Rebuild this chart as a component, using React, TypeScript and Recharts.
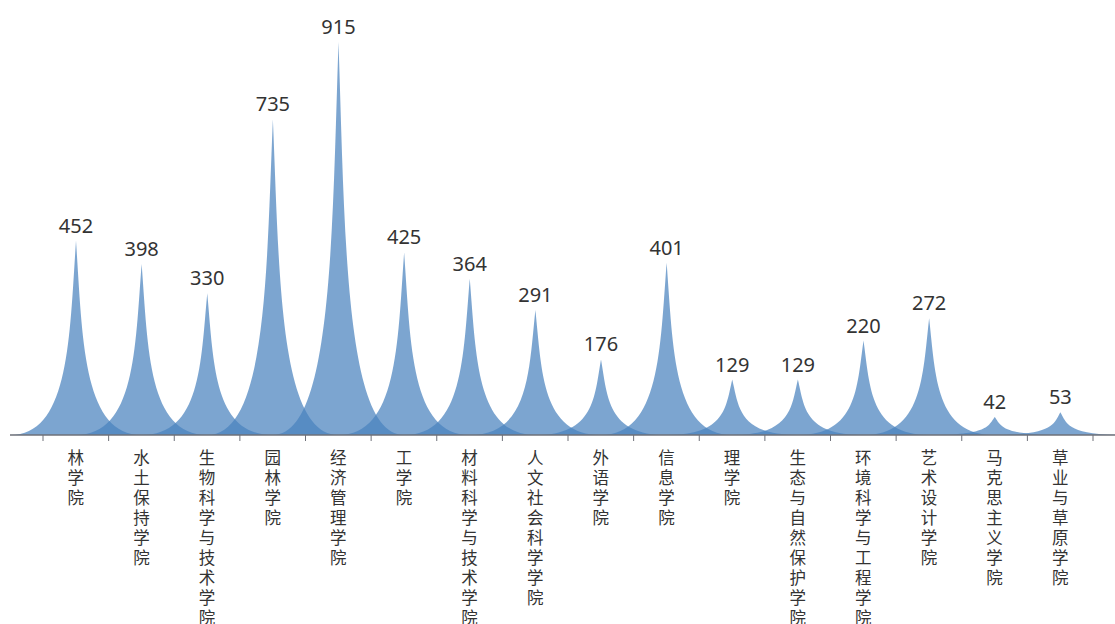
import React from "react";
import { BarChart, Bar, XAxis, YAxis, LabelList } from "recharts";

const categories = [
  "林学院",
  "水土保持学院",
  "生物科学与技术学院",
  "园林学院",
  "经济管理学院",
  "工学院",
  "材料科学与技术学院",
  "人文社会科学学院",
  "外语学院",
  "信息学院",
  "理学院",
  "生态与自然保护学院",
  "环境科学与工程学院",
  "艺术设计学院",
  "马克思主义学院",
  "草业与草原学院",
];
const values = [452, 398, 330, 735, 915, 425, 364, 291, 176, 401, 129, 129, 220, 272, 42, 53];

const data = categories.map((name, i) => ({ name, value: values[i] }));

const W = 1115;
const H = 624;
const MARGIN_LEFT = 10;
const PAD_LEFT = 33;
const PAD_RIGHT = 22;
const BAND = (W - MARGIN_LEFT - PAD_LEFT - PAD_RIGHT) / categories.length;

const FILL = "#4a82be";
const CJK_FONT = "'Noto Sans CJK SC', 'Noto Sans', sans-serif";
const NUM_FONT = "'Noto Sans', 'Open Sans', sans-serif";

const Spike = (props: any) => {
  const { x, y, width, height } = props;
  if (height == null || width == null) return null;
  const cx = x + width / 2;
  const hw = BAND;
  const bottom = y + height;
  const mid = y + height / 2;
  const d = `M${cx - hw},${bottom} L${cx + hw},${bottom} C${cx + 0.1 * hw},${bottom} ${cx + 0.1 * hw},${mid} ${cx},${y} C${cx - 0.1 * hw},${mid} ${cx - 0.1 * hw},${bottom} ${cx - hw},${bottom} Z`;
  return <path d={d} fill={FILL} fillOpacity={0.72} />;
};

const CatTick = (props: any) => {
  const { x, y, payload, index } = props;
  const chars = String(payload.value).split("");
  const left = x - BAND / 2;
  const right = x + BAND / 2;
  return (
    <g>
      <line x1={left} y1={y} x2={left} y2={y + 6} stroke="#6e7079" strokeWidth={1} />
      {index === categories.length - 1 && (
        <line x1={right} y1={y} x2={right} y2={y + 6} stroke="#6e7079" strokeWidth={1} />
      )}
      {chars.map((c, i) => (
        <text
          key={i}
          x={x}
          y={y + 29 + i * 20}
          textAnchor="middle"
          fontSize={16.5}
          fill="#333"
          fontFamily={CJK_FONT}
        >
          {c}
        </text>
      ))}
    </g>
  );
};

const ValueLabel = (props: any) => {
  const { x, y, width, value } = props;
  return (
    <text x={x + width / 2} y={y - 8} textAnchor="middle" fontSize={20} fill="#333" fontFamily={NUM_FONT}>
      {value}
    </text>
  );
};

export default function App() {
  return (
    <div style={{ position: "absolute", left: 0, top: 0, width: W, height: H, background: "#fff" }}>
      <BarChart
        width={W}
        height={H}
        data={data}
        margin={{ top: 5.5, right: 0, bottom: 0, left: MARGIN_LEFT }}
        barCategoryGap="0%"
        barGap={0}
      >
        <XAxis
          dataKey="name"
          height={189}
          padding={{ left: PAD_LEFT, right: PAD_RIGHT }}
          axisLine={{ stroke: "#6e7079", strokeWidth: 1.5 }}
          tickLine={false}
          tickSize={0}
          tickMargin={0}
          interval={0}
          tick={<CatTick />}
        />
        <YAxis hide domain={[0, 1000]} />
        <Bar dataKey="value" shape={<Spike />} isAnimationActive={false}>
          <LabelList dataKey="value" content={<ValueLabel />} />
        </Bar>
      </BarChart>
    </div>
  );
}
